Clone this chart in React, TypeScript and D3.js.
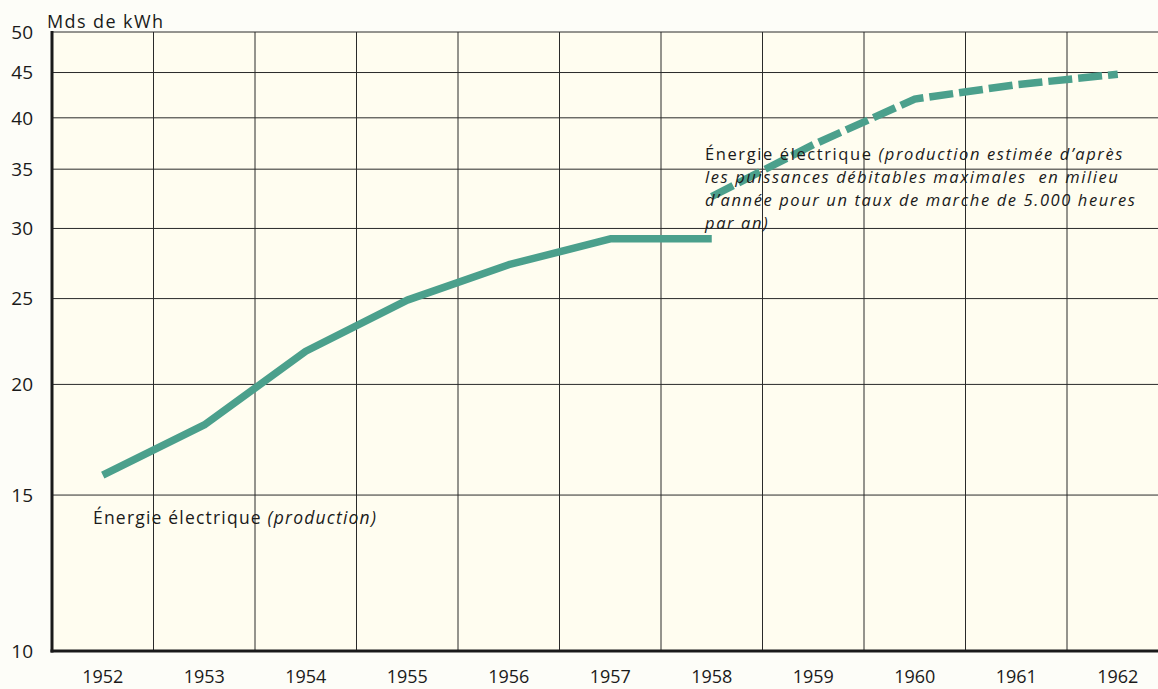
import React from "react";
import * as d3 from "d3";

const years = ["1952","1953","1954","1955","1956","1957","1958","1959","1960","1961","1962"];
const yTicks = [10, 15, 20, 25, 30, 35, 40, 45, 50];
const productionYears = ["1952","1953","1954","1955","1956","1957","1958"];
const productionValues = [15.8, 18.0, 21.8, 24.9, 27.3, 29.2, 29.2];
const estimatedYears = ["1958","1959","1960","1961","1962"];
const estimatedValues = [32.6, 37.3, 42.0, 43.6, 44.8];
const yTitle = "Mds de kWh";
const label1 = ["Énergie électrique ", "(production)"];
const label2Lines = [
  ["Énergie électrique ", "(production estimée d’après"],
  ["", "les puissances débitables maximales  en milieu"],
  ["", "d’année pour un taux de marche de 5.000 heures"],
  ["", "par an)"],
];
const label2Baselines = [160, 183, 206, 229];

const W = 1158, H = 689;
const left = 52, top = 32, bottom = 651;
const bandW = 101.5;

export default function App() {
  const x = d3.scaleBand<string>().domain(years).range([left, left + bandW * years.length]).padding(0);
  const y = d3.scaleLog().domain([10, 50]).range([bottom, top]);
  const cx = (yr: string) => (x(yr) as number) + x.bandwidth() / 2;
  const line = d3.line<[string, number]>().x(d => cx(d[0])).y(d => y(d[1]));
  const prod = productionYears.map((yr, i) => [yr, productionValues[i]] as [string, number]);
  const est = estimatedYears.map((yr, i) => [yr, estimatedValues[i]] as [string, number]);
  const font = "'Open Sans', 'DejaVu Sans', sans-serif";
  const teal = "#4ba08c";
  return (
    <div style={{ position: "absolute", left: 0, top: 0, width: W, height: H, background: "#fdfdf8" }}>
      <svg width={W} height={H} style={{ display: "block" }} fontFamily={font}>
        <rect x={left} y={top} width={W - left} height={bottom - top} fill="#fffdf0" />
        {yTicks.map(t => (
          <line key={"h" + t} x1={left} x2={W} y1={y(t)} y2={y(t)} stroke="#2a2a2a" strokeWidth={1} />
        ))}
        {years.slice(1).map(yr => (
          <line key={"v" + yr} x1={x(yr)} x2={x(yr)} y1={top} y2={bottom} stroke="#2a2a2a" strokeWidth={1} />
        ))}
        <line x1={left} x2={left} y1={top - 1} y2={bottom + 1.5} stroke="#1a1a1a" strokeWidth={3} />
        <line x1={left - 1.5} x2={W} y1={bottom} y2={bottom} stroke="#1a1a1a" strokeWidth={3} />
        {yTicks.map(t => (
          <text key={"yt" + t} x={33} y={y(t)} dy="0.36em" textAnchor="end" fontSize={19} fill="#1a1a1a">{t}</text>
        ))}
        {years.map(yr => (
          <text key={"xt" + yr} x={cx(yr)} y={683} textAnchor="middle" fontSize={18} fill="#1a1a1a">{yr}</text>
        ))}
        <text x={47} y={28} fontSize={18} fill="#1a1a1a" letterSpacing={1.4}>{yTitle}</text>
        <path d={line(prod) || ""} fill="none" stroke={teal} strokeWidth={7.5} strokeLinejoin="round" />
        <path d={line(est) || ""} fill="none" stroke={teal} strokeWidth={7.5} strokeDasharray="24 6" />
        <text x={93} y={524} fontSize={17.5} fill="#1a1a1a" letterSpacing={1.2}>
          <tspan>{label1[0]}</tspan><tspan fontStyle="italic">{label1[1]}</tspan>
        </text>
        {label2Lines.map((l, i) => (
          <text key={"l2" + i} x={705} y={label2Baselines[i]} fontSize={16.5} fill="#1a1a1a" letterSpacing={1.6} style={{ whiteSpace: "pre" }}>
            {l[0] && <tspan>{l[0]}</tspan>}<tspan fontStyle="italic">{l[1]}</tspan>
          </text>
        ))}
      </svg>
    </div>
  );
}
